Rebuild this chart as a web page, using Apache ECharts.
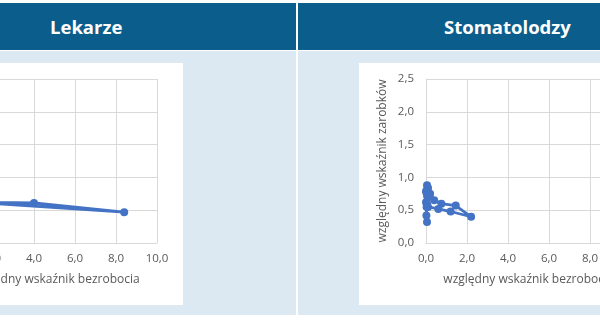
<!DOCTYPE html>
<html lang="pl">
<head>
<meta charset="UTF-8">
<title>Lekarze / Stomatolodzy</title>
<script src="https://cdn.jsdelivr.net/npm/echarts@6/dist/echarts.min.js"></script>
<style>
html,body{margin:0;padding:0;background:#fff}
#page{position:relative;width:600px;height:330px;overflow:hidden;font-family:"Open Sans",sans-serif}
.head{position:absolute;top:3px;height:47px;background:#0b5e8c;color:#fff;font-weight:bold;font-size:18.5px;line-height:47px}
.pane{position:absolute;top:51px;height:264px;background:#dce9f2}
.card{position:absolute;top:63px;height:242px;background:#fff}
/* the picture is cropped: the chart box starts 200px left of the page */
#chartBox{position:absolute;left:-200px;top:0;width:850px;height:330px}
</style>
</head>
<body>
<div id="page">
    <div class="head" style="left:0;width:296px"><span style="position:absolute;left:50px">Lekarze</span></div>
    <div class="head" style="left:298px;width:302px"><span style="position:absolute;left:146px">Stomatolodzy</span></div>
    <div class="pane" style="left:0;width:296px"></div>
    <div class="pane" style="left:298px;width:302px"></div>
    <div class="card" style="left:0;width:183px"></div>
    <div class="card" style="left:359px;width:241px"></div>
    <div id="chartBox"></div>
</div>
<script>
// x = względny wskaźnik bezrobocia, y = względny wskaźnik zarobków
const lekarzeX = [0.3, 0.1, 0.6, 1.2, 0.8, 2.0, 4.0, 8.4, 2.1, 1.0, 0.4];
const lekarzeY = [0.85, 0.70, 0.62, 0.66, 0.75, 0.62, 0.61, 0.47, 0.60, 0.70, 0.80];

const stomX = [0.05, 0.02, 0.03, 0.00, 0.05, 0.02, 0.05, 0.10, 0.20, 0.40, 0.75, 1.45, 2.20, 1.20, 0.60, 0.10, 0.05, 0.10, 0.00];
const stomY = [0.32, 0.42, 0.55, 0.62, 0.72, 0.80, 0.88, 0.84, 0.75, 0.65, 0.60, 0.57, 0.40, 0.48, 0.52, 0.55, 0.60, 0.70, 0.78];

const xName = 'względny wskaźnik bezrobocia';
const yName = 'względny wskaźnik zarobków';

function fmt(v){ return v.toFixed(1).replace('.', ','); }
function pairs(xs, ys){ return xs.map((x, i) => [x, ys[i]]); }

const lbl = {color:'#595959', fontSize:11.5, fontFamily:'Open Sans'};
const gridLine = {show:true, lineStyle:{color:'#d9d9d9', width:1}};

function xAxis(idx){
    return {
        gridIndex: idx, type:'value', min:0, max:10, interval:2,
        name: xName, nameLocation:'middle', nameGap:31,
        nameTextStyle: {color:'#595959', fontSize:12, fontFamily:'Open Sans'},
        axisLine:{show:true, lineStyle:{color:'#d9d9d9'}}, axisTick:{show:false},
        axisLabel: Object.assign({formatter: fmt, margin:10}, lbl),
        splitLine: gridLine
    };
}
function yAxis(idx){
    return {
        gridIndex: idx, type:'value', min:0, max:2.5, interval:0.5,
        name: yName, nameLocation:'middle', nameGap:37,
        nameTextStyle: {color:'#595959', fontSize:12, fontFamily:'Open Sans'},
        axisLine:{show:true, lineStyle:{color:'#d9d9d9'}}, axisTick:{show:false},
        axisLabel: Object.assign({formatter: fmt, margin:12}, lbl),
        splitLine: gridLine
    };
}
function series(idx, data){
    return {
        type:'line', xAxisIndex:idx, yAxisIndex:idx, data:data,
        symbol:'circle', symbolSize:8, smooth:false,
        itemStyle:{color:'#4472c4'}, lineStyle:{color:'#4472c4', width:2.8},
        animation:false
    };
}

const chartObj = echarts.init(document.getElementById('chartBox'));
chartObj.setOption({
    animation:false,
    grid:[
        {left:152, width:205, top:79, height:164},
        {left:626, width:205, top:79, height:164}
    ],
    xAxis:[xAxis(0), xAxis(1)],
    yAxis:[yAxis(0), yAxis(1)],
    series:[series(0, pairs(lekarzeX, lekarzeY)), series(1, pairs(stomX, stomY))]
});
</script>
</body>
</html>
